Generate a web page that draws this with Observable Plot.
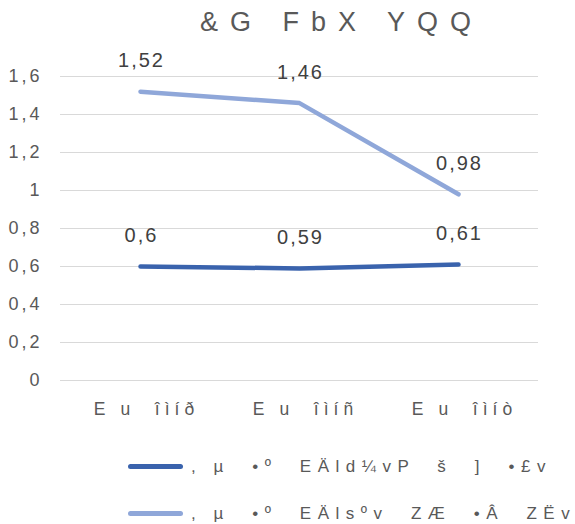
<!DOCTYPE html>
<html>
<head>
<meta charset="utf-8">
<script src="https://cdn.jsdelivr.net/npm/d3@7"></script>
<script src="https://cdn.jsdelivr.net/npm/@observablehq/plot@0.6"></script>
<style>
  html, body { margin: 0; padding: 0; background: #fff; width: 575px; height: 524px; overflow: hidden; }
  body { font-family: "Liberation Sans", Arial, sans-serif; position: relative; }
  #title { position: absolute; left: 200px; top: 7px; font-size: 27px; color: #595959; letter-spacing: 12px; white-space: pre; }
  #chart { position: absolute; left: 0; top: 50px; }
  #chart svg text { white-space: pre; }
  .xax text { letter-spacing: 5px; }
  .yax text { letter-spacing: 3px; }
  .dlab text { letter-spacing: 2px; }
  #legend { position: absolute; left: 128px; top: 443px; width: 447px; overflow: hidden; }
  .row { display: flex; align-items: center; height: 47px; white-space: pre; font-size: 17px; color: #595959; letter-spacing: 6.5px; }
  .sw { width: 55px; height: 5px; border-radius: 3px; margin-right: 8px; flex: none; }
</style>
</head>
<body>
<div id="title"></div>
<div id="chart"></div>
<div id="legend"></div>
<script>
const titleText = "&G FbX YQQ";
const categories = ["E u  îìíð", "E u  îìíñ", "E u  îìíò"];
const seriesNames = [", µ  •º  EÄld¼vP  š  ]  •£v", ", µ  •º  EÄlsºv  ZÆ  •Â  ZËv"];
const seriesA = [0.6, 0.59, 0.61];
const seriesB = [1.52, 1.46, 0.98];
const yTicks = [0, 0.2, 0.4, 0.6, 0.8, 1, 1.2, 1.4, 1.6];
const colors = ["#3a63ad", "#8fa7d9"];

const fmt = d => String(d).replace(".", ",");
const data = [];
categories.forEach((c, i) => {
  data.push({cat: c, value: seriesA[i], series: seriesNames[0]});
  data.push({cat: c, value: seriesB[i], series: seriesNames[1]});
});

document.getElementById("title").textContent = titleText;

const plot = Plot.plot({
  width: 575,
  height: 380,
  marginTop: 26,
  marginLeft: 60,
  marginRight: 37,
  marginBottom: 50,
  style: {fontFamily: "Liberation Sans, Arial, sans-serif", color: "#595959", background: "#fff"},
  x: {type: "point", domain: categories, padding: 0.5},
  y: {domain: [0, 1.6], ticks: yTicks},
  color: {domain: seriesNames, range: colors},
  marks: [
    Plot.ruleY(yTicks, {stroke: "#d9d9d9", strokeWidth: 1}),
    Plot.axisY({ticks: yTicks, tickSize: 0, tickPadding: 18, tickFormat: fmt, fontSize: 18, fill: "#595959", label: null, className: "yax"}),
    Plot.axisX({tickSize: 0, tickPadding: 22, dx: 6, fontSize: 17.5, fill: "#595959", label: null, className: "xax"}),
    Plot.line(data, {x: "cat", y: "value", z: "series", stroke: "series", strokeWidth: 4.5, strokeLinecap: "round", strokeLinejoin: "round"}),
    Plot.text(data, {x: "cat", y: "value", text: d => fmt(d.value), dy: -31, dx: 1, fontSize: 20, fill: "#404040", className: "dlab"})
  ]
});
document.getElementById("chart").appendChild(plot);

const legend = document.getElementById("legend");
seriesNames.forEach((n, i) => {
  const row = document.createElement("div");
  row.className = "row";
  const sw = document.createElement("div");
  sw.className = "sw";
  sw.style.background = colors[i];
  const t = document.createElement("span");
  t.textContent = n;
  row.appendChild(sw);
  row.appendChild(t);
  legend.appendChild(row);
});
</script>
</body>
</html>
